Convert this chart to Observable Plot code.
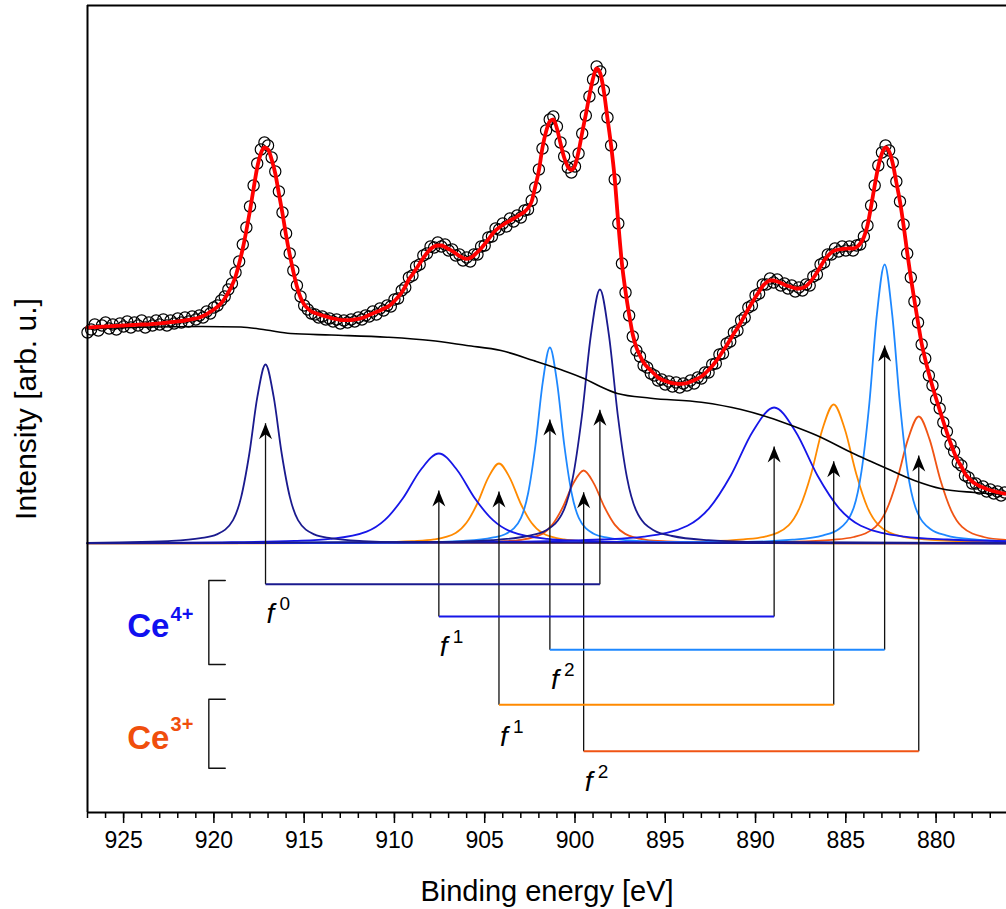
<!DOCTYPE html>
<html><head><meta charset="utf-8">
<script src="https://cdn.jsdelivr.net/npm/d3@7"></script>
<script src="https://cdn.jsdelivr.net/npm/@observablehq/plot@0.6"></script>
<style>html,body{margin:0;padding:0;background:#fff;overflow:hidden}</style>
</head><body><div id="chart"></div>
<script>
// ---------- DATA (Ce 3d XPS spectrum, intensity in arb. u.) ----------
const energyStart = 927.0;   // eV, first channel
const energyStep = 0.2;      // eV, channel spacing (decreasing binding energy)

const measured = [
211,214,219,213,218,221,215,219,214,220,
217,222,216,221,218,223,216,221,218,223,
219,224,218,223,220,225,221,226,222,227,
224,228,226,232,230,236,238,243,247,254,
260,271,282,299,316,337,358,380,394,401,
398,386,372,352,331,310,290,273,258,247,
238,234,230,229,226,227,224,225,222,224,
220,223,221,224,222,226,224,228,227,232,
229,235,233,238,237,244,245,253,256,266,
268,277,279,288,290,297,296,301,297,299,
293,294,288,289,283,286,282,289,289,297,
298,306,307,315,314,320,317,325,322,328,
326,333,334,343,356,374,395,413,424,427,
417,401,387,376,371,377,390,410,428,447,
464,477,472,453,426,398,364,320,280,251,
228,207,193,187,178,176,170,168,163,164,
159,162,157,161,156,160,158,163,160,166,
165,171,171,179,180,189,190,200,202,211,
213,223,226,236,238,248,250,259,259,265,
261,264,258,260,255,258,252,256,253,259,
258,267,269,279,281,289,289,295,292,297,
293,297,293,298,299,307,318,338,358,378,
391,398,393,381,362,342,319,290,266,242,
221,199,185,168,158,144,135,121,112,99,
92,81,78,68,66,60,60,55,57,52,
54,50,52,48,51];

const fitEnvelope = [
216,216.2,216.4,216.6,216.8,217,217.2,217.4,217.6,217.8,
218,218.2,218.4,218.6,218.8,219,219,219.2,219.5,219.8,
220.1,220.5,220.9,221.3,221.7,222.1,222.5,223,223.6,224.3,
225,226,227.5,229.4,231.6,234,236.8,240.2,245,251,
258,267,280,295,313,333,355,376,390,396,
394,384,370,350,330,308,289,272,257,246,
239,235,232,230.5,229.2,228,227,226,225,224.3,
223.5,223.3,223.3,223.5,224,224.6,225.5,226.8,228.5,230,
231.5,233,234.8,236.5,239,242.5,246.5,251,257,264,
269,274.5,280,285.5,290.5,294.5,297,298,298,296.5,
294.5,292.5,290,287.5,285.5,284.7,285.5,288,291.5,295,
299.5,304,309,313,316,318.5,320.8,322.8,324.8,327,
329.3,331.8,335.5,342,357,373,396,412,422,424,
415,400,386,377,373.5,378,392,411,429,448,
465,475,470,452,425,398,365,320,280,252,
229,209,196,188,181,176.5,173,169.5,166,164,
162.5,161.3,160.3,159.8,159.6,159.8,160.5,161.8,163.3,165,
167,170,173.5,177.5,182,187,192.5,198,204,210,
215.5,221.5,228,234.5,240.5,246.5,252,257.5,261,263,
263,262,260.5,258.8,257.5,256.3,255.2,255,255.5,257.5,
261,265.5,271,277,283,287.5,291,293,294,294.5,
294.8,295,295,296.5,300,306.3,318,337,358,377,
390,396,392,380,361,342,318,291,266,243,
221,200,184,170,157,145,133.5,122,111,100.5,
91,83,77,70,65.5,62,59.5,57.5,56,54.5,
53.3,52.3,51.3,50.5,49.8];

// Shirley-type background [eV, intensity]
const background = [[927.0,214.5],[923.5,216.5],[920.7,217],[918.5,216.5],[917.1,213.5],[915.75,210],[913.5,208.5],[910.4,206.3],[908.0,203],[906.0,198],[904.1,193],[902.3,183],[900.8,174],[899.5,165],[898.6,157],[897.65,150],[895.8,145.3],[893.0,141.3],[890.8,134],[889.3,126.3],[888.0,118],[886.6,108],[884.55,89.7],[883.6,82],[882.7,74.7],[881.2,63],[879.7,54.7],[877.9,51],[876.1,49]];

// Fitted components [eV, intensity above baseline]
const ce4_f0_3d32 = [[927,0.6],[925.24,1.1],[922.54,2.4],[920.74,5.3],[919.84,9.1],[918.94,23.4],[918.49,46.4],[918.04,89.5],[917.59,146.8],[917.14,179],[916.69,146.8],[916.24,89.5],[915.79,46.4],[915.34,23.4],[914.44,9.1],[913.54,5.3],[911.74,2.4],[909.04,1.1],[876.1,0.1]];
const ce4_f0_3d52 = [[927,0.4],[907.62,1.5],[904.62,3.4],[902.62,7.5],[901.62,13],[900.62,33.3],[900.12,65.8],[899.62,127],[899.12,208.3],[898.62,254],[898.12,208.3],[897.62,127],[897.12,65.8],[896.62,33.3],[895.62,13],[894.62,7.5],[892.62,3.4],[889.62,1.5],[876.1,0.4]];
const ce4_f1_3d32 = [[927,0.4],[925.54,0.55],[919.54,1.2],[915.54,2.6],[913.54,4.6],[911.54,11.8],[910.54,23.3],[909.54,45],[908.54,73.8],[907.54,90],[906.54,73.8],[905.54,45],[904.54,23.3],[903.54,11.8],[901.54,4.6],[899.54,2.6],[895.54,1.2],[889.54,0.55],[876.1,0.2]];
const ce4_f1_3d52 = [[927,0.3],[910.57,0.8],[903.37,1.8],[898.57,4.0],[896.17,6.9],[893.77,17.8],[892.57,35.2],[891.37,68],[890.17,111.5],[888.97,136],[887.77,111.5],[886.57,68],[885.37,35.2],[884.17,17.8],[881.77,6.9],[879.37,4.0],[876.1,2.4]];
const ce4_f2_3d32 = [[927,0.5],[908.59,1.2],[906.19,2.6],[904.59,5.8],[903.79,10],[902.99,25.7],[902.59,50.8],[902.19,98],[901.79,160.7],[901.39,196],[900.99,160.7],[900.59,98],[900.19,50.8],[899.79,25.7],[898.99,10],[898.19,5.8],[896.59,2.6],[894.19,1.2],[876.1,0.2]];
const ce4_f2_3d52 = [[927,0.1],[890.5,1.7],[887.95,3.8],[886.25,8.2],[885.4,14.2],[884.55,36.5],[884.13,72.3],[883.7,139.5],[883.28,228.8],[882.85,279],[882.43,228.8],[882.0,139.5],[881.58,72.3],[881.15,36.5],[880.3,14.2],[879.45,8.2],[877.75,3.8],[876.1,2.2]];
const ce3_f1_3d32 = [[927,0.3],[915.01,0.5],[911.41,1.1],[909.01,2.4],[907.81,4.1],[906.61,10.5],[906.01,20.7],[905.41,40],[904.81,65.6],[904.21,80],[903.61,65.6],[903.01,40],[902.41,20.7],[901.81,10.5],[900.61,4.1],[899.41,2.4],[897.01,1.1],[893.41,0.5],[876.1,0.1]];
const ce3_f1_3d52 = [[927,0.1],[896.92,0.85],[893.17,1.9],[890.67,4.1],[889.42,7.1],[888.17,18.2],[887.55,36],[886.92,69.5],[886.3,114],[885.67,139],[885.05,114],[884.42,69.5],[883.8,36],[883.17,18.2],[881.92,7.1],[880.67,4.1],[878.17,1.9],[876.1,1.2]];
const ce3_f2_3d32 = [[927,0.2],[909.87,0.45],[906.42,1.0],[904.12,2.1],[902.97,3.7],[901.82,9.6],[901.25,18.9],[900.67,36.5],[900.1,59.9],[899.52,73],[898.95,59.9],[898.37,36.5],[897.8,18.9],[897.22,9.6],[896.07,3.7],[894.92,2.1],[892.62,1.0],[889.17,0.45],[876.1,0.1]];
const ce3_f2_3d52 = [[927,0.1],[891.76,0.8],[888.16,1.7],[885.76,3.7],[884.56,6.5],[883.36,16.6],[882.76,32.9],[882.16,63.5],[881.56,104.1],[880.96,127],[880.36,104.1],[879.76,63.5],[879.16,32.9],[878.56,16.6],[877.36,6.5],[876.1,3.6]];

// Spin-orbit doublets (final states) and their arrow tips
const multiplets   = ["Ce4+ f0", "Ce4+ f1", "Ce4+ f2", "Ce3+ f1", "Ce3+ f2"];
const multipletSup = ["0", "1", "2", "1", "2"];
const peak3d32     = [917.14, 907.54, 901.39, 904.21, 899.52];
const peak3d52     = [898.62, 888.97, 882.85, 885.67, 880.96];
const tip3d32      = [120.3, 53, 124, 52, 51.3];
const tip3d52      = [133.7, 97, 198, 82.3, 88];

const majorTicks = [925, 920, 915, 910, 905, 900, 895, 890, 885, 880];
const minorTicks = d3.range(877, 928, 1);

// ---------- STYLE / LAYOUT ----------
const palette = {navy: "#1a1a8e", blue: "#1616e8", light: "#1e88ff", orange: "#ff8a00", red: "#f05414"};
const multipletColor = [palette.navy, palette.blue, palette.light, palette.orange, palette.red];
const layout = {
  bracketLevel: [-40.7, -73, -106.3, -161.3, -207.7],
  labelLevel: [-79, -112, -145, -202, -247],
  ceE: 924.8, ceSupE: 922.4,
  ce4Base: -93.7, ce4Sup: -77, ce3Base: -205.3, ce3Sup: -187,
  bracketE: 920.28, bracketTickE: 919.37,
  ce4Bracket: [-37, -121], ce3Bracket: [-155.7, -224.7]
};

const components = [
  {pts: ce3_f1_3d32, c: palette.orange}, {pts: ce3_f1_3d52, c: palette.orange},
  {pts: ce3_f2_3d32, c: palette.red}, {pts: ce3_f2_3d52, c: palette.red},
  {pts: ce4_f2_3d32, c: palette.light}, {pts: ce4_f2_3d52, c: palette.light},
  {pts: ce4_f1_3d32, c: palette.blue}, {pts: ce4_f1_3d52, c: palette.blue},
  {pts: ce4_f0_3d32, c: palette.navy}, {pts: ce4_f0_3d52, c: palette.navy}
];

const spectrum = measured.map((v, i) => ({E: +(energyStart - i * energyStep).toFixed(2), I: v, fit: fitEnvelope[i]}));
const doublets = multiplets.map((m, i) => ({
  name: m, hi: peak3d32[i], lo: peak3d52[i], tipHi: tip3d32[i], tipLo: tip3d52[i],
  level: layout.bracketLevel[i], label: layout.labelLevel[i], sup: multipletSup[i], color: multipletColor[i]
}));
const arrows = doublets.flatMap(d => [{E: d.hi, tip: d.tipHi, level: d.level}, {E: d.lo, tip: d.tipLo, level: d.level}]);

const arrowHead = {draw(ctx) { ctx.moveTo(0, 0); ctx.lineTo(6.5, 16); ctx.lineTo(0, 11); ctx.lineTo(-6.5, 16); ctx.closePath(); }};

const bracket = (lv) => [[layout.bracketTickE, lv[0]], [layout.bracketE, lv[0]], [layout.bracketE, lv[1]], [layout.bracketTickE, lv[1]]];

const font = "'Liberation Sans', Arial, Helvetica, sans-serif";

const chart = Plot.plot({
  width: 1006, height: 909,
  marginLeft: 87, marginRight: 0, marginTop: 5, marginBottom: 97,
  x: {domain: [927, 876.1]},
  y: {domain: [-269, 538], axis: null},
  style: {fontFamily: font, background: "white", color: "black", fontSize: "23px", overflow: "visible"},
  marks: [
    // components
    ...components.map(c => Plot.line(c.pts, {x: d => d[0], y: d => d[1], stroke: c.c, strokeWidth: 1.8, curve: "monotone-x"})),
    // background
    Plot.line(background, {x: d => d[0], y: d => d[1], stroke: "black", strokeWidth: 1.6, curve: "monotone-x"}),
    // doublet connectors
    Plot.link(arrows, {x1: "E", x2: "E", y1: "level", y2: "tip", stroke: "#111", strokeWidth: 1.3}),
    Plot.link(doublets, {x1: "hi", x2: "lo", y1: "level", y2: "level", stroke: "color", strokeWidth: 2}),
    Plot.dot(arrows, {x: "E", y: "tip", symbol: arrowHead, r: 4, fill: "black", stroke: "none"}),
    // labels f^n
    Plot.text(doublets, {x: "hi", y: "label", text: () => "f", fontStyle: "italic", fontSize: 28, textAnchor: "start", lineAnchor: "bottom", dx: 1, fill: "black"}),
    Plot.text(doublets, {x: "hi", y: "label", text: "sup", fontSize: 19, textAnchor: "start", lineAnchor: "bottom", dx: 14, dy: -13, fill: "black"}),
    // Ce4+ / Ce3+ labels and brackets
    Plot.text(["Ce"], {x: layout.ceE, y: layout.ce4Base, text: d => d, fontWeight: "bold", fontSize: 33, fill: "#1010f0", textAnchor: "start", lineAnchor: "bottom"}),
    Plot.text(["4+"], {x: layout.ceSupE, y: layout.ce4Sup, text: d => d, fontWeight: "bold", fontSize: 20, fill: "#1010f0", textAnchor: "start", lineAnchor: "bottom"}),
    Plot.text(["Ce"], {x: layout.ceE, y: layout.ce3Base, text: d => d, fontWeight: "bold", fontSize: 33, fill: "#f04e0c", textAnchor: "start", lineAnchor: "bottom"}),
    Plot.text(["3+"], {x: layout.ceSupE, y: layout.ce3Sup, text: d => d, fontWeight: "bold", fontSize: 20, fill: "#f04e0c", textAnchor: "start", lineAnchor: "bottom"}),
    Plot.line(bracket(layout.ce4Bracket), {x: d => d[0], y: d => d[1], stroke: "#111", strokeWidth: 1.4}),
    Plot.line(bracket(layout.ce3Bracket), {x: d => d[0], y: d => d[1], stroke: "#111", strokeWidth: 1.4}),
    // measured data and fit envelope
    Plot.dot(spectrum, {x: "E", y: "I", r: 5.6, stroke: "black", strokeWidth: 1.2, fill: "none"}),
    Plot.line(spectrum, {x: "E", y: "fit", stroke: "#ff0000", strokeWidth: 3.8, curve: "monotone-x"}),
    // frame and axes
    Plot.ruleX([927], {strokeWidth: 2}),
    Plot.ruleY([538, -269], {strokeWidth: 2}),
    Plot.axisX(minorTicks, {tickSize: 6, tickFormat: () => "", strokeWidth: 1.5, label: null}),
    Plot.axisX(majorTicks, {tickSize: 11, tickPadding: 8, strokeWidth: 1.5, fontSize: 23, label: null}),
    Plot.text(["Binding energy [eV]"], {frameAnchor: "bottom", dy: 88, lineAnchor: "bottom", fontSize: 29, fill: "black"}),
    Plot.text(["Intensity [arb. u.]"], {frameAnchor: "left", rotate: -90, dx: -52, lineAnchor: "bottom", textAnchor: "middle", fontSize: 30, fill: "black"})
  ]
});
document.getElementById("chart").appendChild(chart);
</script>
</body></html>
